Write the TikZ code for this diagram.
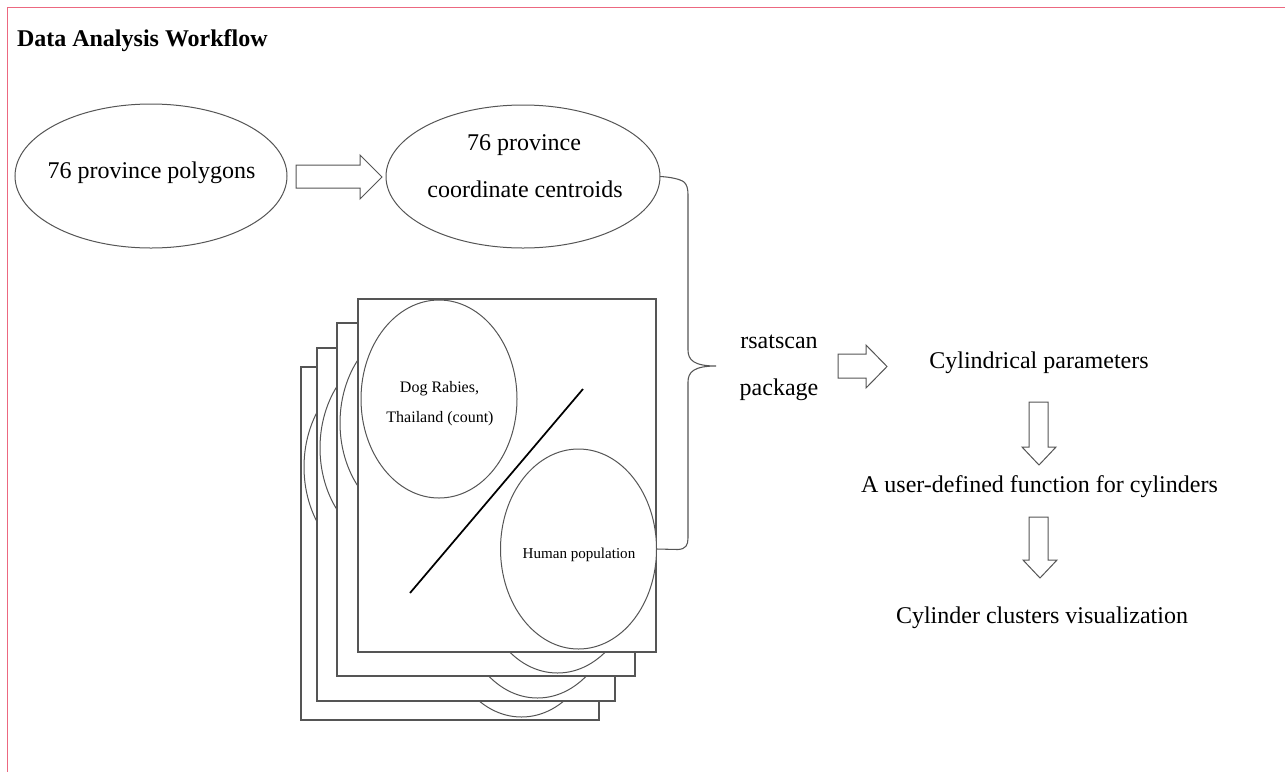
\documentclass[tikz,border=0pt]{standalone}
\usepackage{fontspec}
\setmainfont{Liberation Serif}
\usetikzlibrary{shapes.geometric}

\definecolor{framepink}{RGB}{236,104,128}
\definecolor{ink}{RGB}{85,85,85}

\tikzset{
  every node/.style={inner sep=0pt, outer sep=0pt},
  oval/.style={ellipse, draw=ink, line width=0.75pt, fill=white},
  page/.style={rectangle, draw=ink, line width=0.8pt, fill=white, anchor=north west,
               minimum width=298*0.75pt, minimum height=353*0.75pt},
  bigtxt/.style={font=\fontsize{18}{20}\selectfont, anchor=base},
  smalltxt/.style={font=\fontsize{12}{14}\selectfont, anchor=base},
  headtxt/.style={font=\bfseries\fontsize{18}{20}\selectfont, anchor=base west},
  blockarrow/.style={draw=ink, line width=0.75pt, fill=white, line join=miter},
  bracket/.style={draw=ink, line width=0.8pt}
}

% one data sheet of the stack: frame plus its two ovals
\newcommand\datasheet[3]{%
  \node[page] (#1) at (#2,#3) {};
  \node[oval, minimum width=156*0.75pt, minimum height=198*0.75pt] (#1-cases) at (#2+81,#3+100) {};
  \node[oval, minimum width=156*0.75pt, minimum height=200*0.75pt] (#1-pop) at (#2+220.5,#3+250) {};
}

\begin{document}
\begin{tikzpicture}[x=0.75pt, y=-0.75pt]
  \useasboundingbox (0,0) rectangle (1285,772);

  % outer frame (only top and left edges fall inside the picture)
  \draw[framepink, line width=1.3pt] (1285,7.5) -- (7.5,7.5) -- (7.5,772);

  % heading
  \node[headtxt] (title) at (17,46) {Data Analysis Workflow};

  % province geometry
  \node[oval, minimum width=272*0.75pt, minimum height=144*0.75pt] (poly) at (151,176) {};
  \node[bigtxt] (polytxt) at (151.5,178) {76 province polygons};

  \node[oval, minimum width=274*0.75pt, minimum height=143*0.75pt] (cent) at (523,176.5) {};
  \node[bigtxt] (centtxt1) at (524,150) {76 province};
  \node[bigtxt] (centtxt2) at (525,197) {coordinate centroids};

  \draw[blockarrow] (296,165) -- (360,165) -- (360,155) -- (382,177)
                    -- (360,199) -- (360,188) -- (296,188) -- cycle;

  % stacked data sheets, back to front
  \datasheet{s4}{301}{367}
  \datasheet{s3}{317}{348}
  \datasheet{s2}{337}{323}
  \datasheet{s1}{358}{299}

  \node[smalltxt] (dogtxt1) at (439.5,392) {Dog Rabies,};
  \node[smalltxt] (dogtxt2) at (440,422) {Thailand (count)};
  \node[smalltxt, font=\fontsize{11.3}{13}\selectfont] (poptxt) at (579,558) {Human population};

  \coordinate (slashA) at (410,593);
  \coordinate (slashB) at (583,389);
  \draw[black, line width=1.3pt] (slashA) -- (slashB);

  % curly bracket joining centroids and sheets
  \coordinate (tip) at (716,366);
  \draw[bracket] (cent.east) .. controls (670,177) and (680,179) .. (684,182)
      .. controls (687,185) and (688,188) .. (688,196) -- (688,350)
      .. controls (688,360) and (694,366) .. (tip)
      .. controls (694,366) and (688,372) .. (688,382) -- (688,538)
      .. controls (688,545) and (686,549) .. (678,549.5) -- (s1-pop.east);

  \node[bigtxt] (rsat1) at (779,348) {rsatscan};
  \node[bigtxt] (rsat2) at (779,395) {package};

  \draw[blockarrow] (838,354) -- (866,354) -- (866,345) -- (887,366.5)
                    -- (866,388) -- (866,378) -- (838,378) -- cycle;

  \node[bigtxt] (cylpar) at (1039,368) {Cylindrical parameters};

  \draw[blockarrow] (1029,402) -- (1048,402) -- (1048,447) -- (1056,447)
                    -- (1039,465) -- (1022,447) -- (1029,447) -- cycle;

  \node[bigtxt] (udf) at (1039.5,492) {A user-defined function for cylinders};

  \draw[blockarrow] (1029,517) -- (1048,517) -- (1048,560) -- (1057,560)
                    -- (1040,578) -- (1023,560) -- (1029,560) -- cycle;

  \node[bigtxt] (viz) at (1042,623) {Cylinder clusters visualization};
\end{tikzpicture}
\end{document}
